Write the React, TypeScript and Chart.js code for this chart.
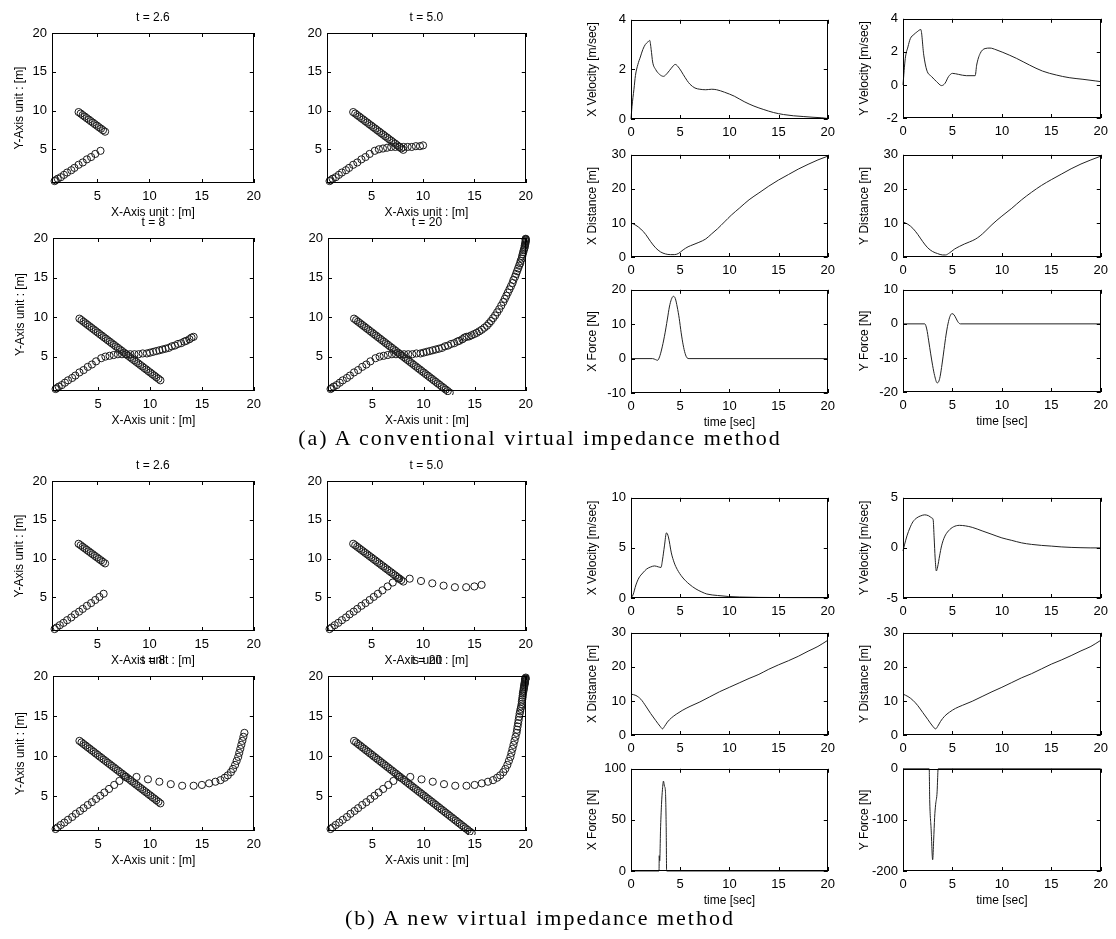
import React, { useEffect, useRef } from "react";
import { Chart, registerables } from "chart.js";
Chart.register(...registerables);

type Pt = [number, number];

// ---------- Trajectory data (robot path and obstacle path), one sample every 0.2 s ----------
const PATH1_A: Pt[] = [
  [0.9, 0.9], [1.0, 1.0], [1.2, 1.2], [1.5, 1.4], [1.8, 1.7], [2.1, 2.0], [2.5, 2.3], [2.8, 2.6], [3.2, 3.0], [3.6, 3.3],
  [4.0, 3.7], [4.4, 4.0], [4.8, 4.4], [5.3, 4.8],
  [5.7, 5.0], [6.1, 5.1], [6.5, 5.2], [6.9, 5.3], [7.3, 5.3], [7.7, 5.3], [8.1, 5.3], [8.5, 5.3], [8.9, 5.3], [9.3, 5.4],
  [9.7, 5.4], [10.0, 5.5],
  [10.3, 5.6], [10.6, 5.7], [10.9, 5.8], [11.2, 5.9], [11.5, 6.0], [11.8, 6.1], [12.1, 6.3], [12.4, 6.4], [12.7, 6.6], [13.0, 6.7],
  [13.3, 6.9], [13.5, 7.0], [13.8, 7.2], [14.0, 7.4], [14.2, 7.5],
  [14.45, 7.55], [14.7, 7.7], [14.95, 7.85], [15.2, 8.0], [15.45, 8.2], [15.7, 8.4], [15.95, 8.65], [16.2, 8.9], [16.4, 9.2], [16.6, 9.5],
  [16.8, 9.85], [17.0, 10.2], [17.2, 10.6], [17.4, 11.0], [17.6, 11.45], [17.8, 11.9], [17.95, 12.3], [18.1, 12.7], [18.25, 13.1], [18.4, 13.5],
  [18.55, 13.9], [18.7, 14.3], [18.8, 14.7], [18.95, 15.1], [19.05, 15.45], [19.15, 15.8], [19.25, 16.15], [19.35, 16.5], [19.45, 16.8], [19.5, 17.1],
  [19.6, 17.4], [19.65, 17.7], [19.7, 17.95], [19.75, 18.2], [19.8, 18.45], [19.85, 18.65], [19.9, 18.85], [19.9, 19.05], [19.95, 19.2], [19.95, 19.35],
  [20.0, 19.5], [20.0, 19.6], [20.0, 19.7], [20.0, 19.8], [20.0, 19.85], [20.0, 19.9],
];
const PATH2_A: Pt[] = [
  [3.2, 9.8], [3.4, 9.61], [3.59, 9.41], [3.79, 9.22], [3.98, 9.02], [4.18, 8.83], [4.37, 8.63], [4.57, 8.44], [4.76, 8.24], [4.96, 8.05],
  [5.15, 7.85], [5.35, 7.66], [5.54, 7.46], [5.74, 7.27], [5.93, 7.07], [6.13, 6.88], [6.32, 6.68], [6.52, 6.49], [6.71, 6.29], [6.91, 6.1],
  [7.1, 5.9], [7.3, 5.71], [7.49, 5.51], [7.69, 5.32], [7.88, 5.12], [8.08, 4.93], [8.27, 4.73], [8.47, 4.54], [8.66, 4.34], [8.86, 4.15],
  [9.05, 3.95], [9.25, 3.76], [9.44, 3.56], [9.64, 3.37], [9.83, 3.17], [10.03, 2.98], [10.22, 2.78], [10.42, 2.59], [10.61, 2.39], [10.81, 2.2],
  [11.0, 2.0], [11.2, 1.81], [11.39, 1.61], [11.59, 1.42], [11.78, 1.22], [11.98, 1.03], [12.17, 0.83], [12.37, 0.64], [12.56, 0.44],
];
const PATH1_B: Pt[] = [
  [0.9, 0.9], [1.1, 1.1], [1.4, 1.4], [1.75, 1.7], [2.1, 2.05], [2.5, 2.4], [2.85, 2.8], [3.25, 3.15], [3.6, 3.5], [4.0, 3.9],
  [4.4, 4.25], [4.8, 4.65], [5.2, 5.05], [5.6, 5.45],
  [6.05, 5.9], [6.55, 6.4], [7.05, 6.9], [7.6, 7.4], [8.7, 7.4], [9.8, 7.1], [10.9, 6.8], [12.0, 6.5], [13.1, 6.3], [14.2, 6.3],
  [15.0, 6.4], [15.7, 6.6],
  [16.3, 6.8], [16.8, 7.0], [17.2, 7.3], [17.5, 7.6], [17.8, 8.0], [18.0, 8.4], [18.2, 8.9], [18.35, 9.4], [18.5, 9.9], [18.6, 10.4],
  [18.7, 10.9], [18.8, 11.4], [18.9, 11.9], [19.0, 12.4], [19.1, 12.9],
  [19.15, 13.3], [19.2, 13.7], [19.25, 14.1], [19.3, 14.5], [19.35, 14.9], [19.4, 15.3], [19.45, 15.6], [19.5, 15.9], [19.55, 16.2], [19.6, 16.5],
  [19.62, 16.8], [19.65, 17.05], [19.68, 17.3], [19.7, 17.55], [19.72, 17.8], [19.75, 18.0], [19.78, 18.2], [19.8, 18.4], [19.82, 18.55], [19.84, 18.7],
  [19.86, 18.85], [19.88, 19.0], [19.9, 19.1], [19.91, 19.2], [19.92, 19.3], [19.93, 19.4], [19.94, 19.5], [19.95, 19.55], [19.96, 19.6], [19.97, 19.65],
  [19.98, 19.7], [20.0, 19.8],
];
const PATH2_B: Pt[] = [
  [3.2, 11.9], [3.4, 11.71], [3.59, 11.51], [3.79, 11.32], [3.98, 11.12], [4.18, 10.93], [4.37, 10.73], [4.57, 10.54], [4.76, 10.34], [4.96, 10.15],
  [5.15, 9.95], [5.35, 9.76], [5.54, 9.56], [5.74, 9.37], [5.93, 9.17], [6.13, 8.98], [6.32, 8.78], [6.52, 8.59], [6.71, 8.39], [6.91, 8.2],
  [7.1, 8.0], [7.3, 7.81], [7.49, 7.61], [7.69, 7.42], [7.88, 7.22], [8.08, 7.03], [8.27, 6.83], [8.47, 6.64], [8.66, 6.44], [8.86, 6.25],
  [9.05, 6.05], [9.25, 5.86], [9.44, 5.66], [9.64, 5.47], [9.83, 5.27], [10.03, 5.08], [10.22, 4.88], [10.42, 4.69], [10.61, 4.49], [10.81, 4.3],
  [11.0, 4.1], [11.2, 3.91], [11.39, 3.71], [11.59, 3.52], [11.78, 3.32], [11.98, 3.13], [12.17, 2.93], [12.37, 2.74], [12.56, 2.54], [12.76, 2.35],
  [12.95, 2.15], [13.15, 1.96], [13.34, 1.76], [13.54, 1.57], [13.73, 1.37], [13.93, 1.18], [14.12, 0.98], [14.32, 0.79], [14.51, 0.59], [14.71, 0.4],
];
const SNAP_LABELS = ["t = 2.6", "t = 5.0", "t = 8", "t = 20"];
const SNAP_COUNTS = [14, 26, 41, 200];
const TRAJ_TICKS = [5, 10, 15, 20];
const TIME_TICKS = [0, 5, 10, 15, 20];

// ---------- Time histories (a) conventional ----------
const XVEL_A: Pt[] = [
  [0, 0], [0.1, 0.5], [0.3, 1.2], [0.45, 1.75], [0.7, 2.2], [0.95, 2.5], [1.2, 2.8], [1.45, 3.0], [1.7, 3.1], [1.9, 3.17],
  [2.05, 2.8], [2.2, 2.3], [2.5, 2.0], [2.9, 1.8], [3.3, 1.72], [3.7, 1.85], [4.1, 2.05], [4.5, 2.2], [4.9, 2.05], [5.3, 1.8],
  [5.7, 1.55], [6.0, 1.4], [6.5, 1.25], [7.0, 1.2], [7.6, 1.18], [8.2, 1.2], [8.7, 1.18], [9.5, 1.08], [10.5, 0.92], [11.5, 0.7],
  [12.5, 0.52], [13.5, 0.38], [14.5, 0.26], [15.5, 0.18], [16.5, 0.13], [17.5, 0.1], [18.5, 0.07], [19.4, 0.05], [20, 0.02],
];
const YVEL_A: Pt[] = [
  [0, 0], [0.23, 1.6], [0.5, 2.3], [0.74, 2.8], [1.1, 3.05], [1.4, 3.2], [1.8, 3.35], [2.1, 1.8], [2.4, 0.9], [2.9, 0.5],
  [3.4, 0.2], [3.9, -0.04], [4.25, 0.1], [4.6, 0.5], [5.0, 0.7], [5.6, 0.64], [6.4, 0.56], [7.3, 0.56], [7.45, 1.2], [7.8, 1.9],
  [8.3, 2.2], [8.8, 2.23], [9.4, 2.13], [10.1, 1.97], [11.5, 1.6], [12.8, 1.2], [14.1, 0.84], [15.5, 0.6], [16.8, 0.44], [18.2, 0.34],
  [19.5, 0.24], [20, 0.2],
];
const XDIST_A: Pt[] = [
  [0, 10], [0.5, 9.3], [1, 8.2], [1.5, 6.6], [2, 4.5], [2.5, 2.7], [3, 1.5], [3.5, 0.9], [4, 0.7], [4.4, 0.7],
  [4.8, 1.0], [5.3, 2.1], [5.8, 3.0], [6.3, 3.6], [6.9, 4.3], [7.6, 5.3], [8.2, 6.8], [8.8, 8.3], [9.5, 10.3], [10.2, 12.3],
  [11, 14.3], [12, 16.8], [13, 18.8], [14, 20.8], [15, 22.6], [16, 24.2], [17, 25.8], [18, 27.2], [19, 28.5], [20, 29.6],
];
const YDIST_A: Pt[] = [
  [0, 10.3], [0.5, 9.6], [1, 8.4], [1.5, 6.6], [2, 4.5], [2.5, 2.7], [3, 1.6], [3.5, 1.0], [4, 0.6], [4.3, 0.6],
  [4.7, 1.2], [5.2, 2.3], [5.7, 3.1], [6.2, 3.8], [6.7, 4.4], [7.3, 5.2], [7.8, 6.2], [8.3, 7.5], [9, 9.5], [9.5, 10.8],
  [10, 12.0], [11, 14.3], [12, 16.8], [13, 19], [14, 21], [15, 22.7], [16, 24.3], [17, 25.9], [18, 27.3], [19, 28.5], [20, 29.6],
];
const XFORCE_A: Pt[] = [
  [0, 0], [2.2, 0], [2.5, -0.3], [2.7, -0.5], [2.9, 0.5], [3.1, 2.5], [3.4, 6.5], [3.7, 11.5], [3.9, 15], [4.1, 17.2],
  [4.3, 18.1], [4.5, 17.5], [4.7, 15], [4.9, 11.7], [5.1, 7.5], [5.3, 4.0], [5.5, 1.5], [5.7, 0.2], [5.9, 0], [20, 0],
];
const YFORCE_A: Pt[] = [
  [0, 0], [2.2, 0], [2.4, -1.5], [2.6, -5], [2.8, -8.8], [3.0, -12.3], [3.2, -15.2], [3.45, -17.3], [3.6, -17], [3.75, -15.5],
  [3.95, -11.8], [4.15, -7.5], [4.35, -3.3], [4.55, 0], [4.75, 2.2], [4.95, 3.0], [5.15, 2.7], [5.35, 1.7], [5.55, 0.6], [5.8, 0], [20, 0],
];

// ---------- Time histories (b) new ----------
const XVEL_B: Pt[] = [
  [0, 0], [0.2, 0.3], [0.5, 1.3], [0.8, 2.0], [1.2, 2.5], [1.6, 2.9], [2.0, 3.1], [2.4, 3.2], [2.8, 3.1], [3.05, 3.05],
  [3.2, 3.8], [3.4, 5.2], [3.6, 6.5], [3.8, 6.1], [4.1, 4.5], [4.4, 3.5], [4.7, 2.85], [5.2, 2.1], [5.9, 1.4], [6.6, 0.9],
  [7.2, 0.6], [7.7, 0.4], [8.8, 0.25], [9.9, 0.15], [11, 0.1], [13, 0.06], [16, 0.04], [20, 0.03],
];
const YVEL_B: Pt[] = [
  [0, -0.3], [0.15, 0.3], [0.4, 1.2], [0.7, 2.0], [1.0, 2.6], [1.4, 3.0], [1.8, 3.2], [2.2, 3.3], [2.6, 3.2], [2.9, 3.0],
  [3.05, 2.8], [3.15, 1.0], [3.25, -1.0], [3.37, -2.3], [3.5, -1.9], [3.7, -0.8], [3.9, 0.2], [4.2, 1.1], [4.6, 1.7], [5.1, 2.1],
  [5.7, 2.25], [6.3, 2.2], [7.0, 2.05], [8.0, 1.7], [9.0, 1.35], [10, 1.0], [11, 0.75], [12, 0.5], [13, 0.35], [14, 0.25],
  [15, 0.18], [16, 0.1], [17, 0.05], [18, 0.02], [19, 0], [20, 0],
];
const XDIST_B: Pt[] = [
  [0, 12], [0.5, 11.6], [1.0, 10.5], [1.5, 8.5], [2.0, 6.3], [2.5, 4.3], [3.0, 2.4], [3.2, 1.8], [3.4, 2.5], [3.7, 3.8],
  [4.1, 5.0], [4.6, 6.1], [5.2, 7.2], [6, 8.4], [7, 9.7], [8, 11.2], [9, 12.7], [10, 14.0], [11, 15.3], [12, 16.6],
  [13, 17.8], [14, 19.3], [15, 20.6], [16, 21.8], [17, 23.1], [18, 24.6], [19, 26.0], [20, 27.8],
];
const YDIST_B: Pt[] = [
  [0, 12], [0.5, 11.3], [1.0, 10.2], [1.5, 8.6], [2.0, 6.6], [2.5, 4.6], [3.0, 2.6], [3.3, 1.8], [3.5, 2.5], [3.8, 4.0],
  [4.2, 5.5], [4.7, 6.7], [5.3, 7.8], [6, 8.7], [7, 9.9], [8, 11.3], [9, 12.7], [10, 14], [11, 15.4], [12, 16.8],
  [13, 18], [14, 19.4], [15, 20.8], [16, 22], [17, 23.3], [18, 24.7], [19, 26], [20, 27.8],
];
const XFORCE_B: Pt[] = [
  [0, 0], [2.85, 0], [2.87, 15], [2.92, 10], [3.0, 40], [3.1, 65], [3.2, 80], [3.3, 88], [3.4, 83], [3.5, 78],
  [3.58, 40], [3.62, 0], [20, 0],
];
const YFORCE_B: Pt[] = [
  [0, 0], [2.65, 0], [2.7, -60], [2.85, -120], [3.0, -178], [3.1, -140], [3.2, -95], [3.3, -70], [3.45, -45], [3.5, -20],
  [3.55, 0], [20, 0],
];

const CAPTION_A = "(a) A conventional virtual impedance method";
const CAPTION_B = "(b) A new virtual impedance method";

// ---------- rendering ----------
const FONT = "'Liberation Sans', Arial, Helvetica, sans-serif";

const framePlugin = {
  id: "frame",
  afterDatasetsDraw(chart: any, _args: any, opts: any) {
    const { ctx, chartArea } = chart;
    const { left, top, right, bottom } = chartArea;
    ctx.save();
    ctx.strokeStyle = "#000";
    ctx.lineWidth = 1;
    ctx.strokeRect(Math.round(left) + 0.5, Math.round(top) + 0.5, Math.round(right - left) - 1, Math.round(bottom - top) - 1);
    const xs = chart.scales.x;
    const ys = chart.scales.y;
    ctx.beginPath();
    for (const t of xs.ticks) {
      const p = Math.round(xs.getPixelForValue(t.value)) + 0.5;
      ctx.moveTo(p, bottom);
      ctx.lineTo(p, bottom - 4);
      ctx.moveTo(p, top);
      ctx.lineTo(p, top + 4);
    }
    for (const t of ys.ticks) {
      const p = Math.round(ys.getPixelForValue(t.value)) + 0.5;
      ctx.moveTo(left, p);
      ctx.lineTo(left + 4, p);
      ctx.moveTo(right, p);
      ctx.lineTo(right - 4, p);
    }
    ctx.stroke();
    if (opts && opts.title) {
      ctx.fillStyle = "#000";
      ctx.font = `12px ${FONT}`;
      ctx.textAlign = "center";
      ctx.textBaseline = "middle";
      ctx.fillText(opts.title, (left + right) / 2, top - 15);
    }
    ctx.restore();
  },
};

type Spec = {
  box: [number, number, number, number];
  padL: number;
  padT: number;
  padR: number;
  padB: number;
  title?: string;
  xTitle?: string;
  yTitle?: string;
  xMin: number;
  xMax: number;
  yMin: number;
  yMax: number;
  xTicks: number[];
  yTicks: number[];
  datasets: any[];
};

function ChartBox({ spec }: { spec: Spec }) {
  const ref = useRef<HTMLCanvasElement>(null);
  const [L, T, R, B] = spec.box;
  const w = R - L + spec.padL + spec.padR;
  const h = B - T + spec.padT + spec.padB;
  useEffect(() => {
    const chart = new Chart(ref.current as HTMLCanvasElement, {
      type: "scatter",
      data: { datasets: spec.datasets },
      options: {
        animation: false,
        responsive: false,
        devicePixelRatio: 1,
        layout: { padding: { left: 0, top: spec.padT, right: spec.padR, bottom: 0 } },
        plugins: {
          legend: { display: false },
          tooltip: { enabled: false },
          frame: { title: spec.title },
        } as any,
        scales: {
          x: {
            type: "linear",
            position: "bottom",
            min: spec.xMin,
            max: spec.xMax,
            grid: { display: false, drawTicks: false },
            border: { display: false },
            ticks: {
              font: { family: FONT, size: 13 },
              color: "#000",
              padding: 6,
              maxRotation: 0,
              autoSkip: false,
              callback: (v: any) => String(v),
            },
            afterBuildTicks: (s: any) => {
              s.ticks = spec.xTicks.map((v) => ({ value: v }));
            },
            afterFit: (s: any) => {
              s.height = spec.padB;
            },
            title: {
              display: !!spec.xTitle,
              text: spec.xTitle || "",
              font: { family: FONT, size: 12 },
              color: "#000",
              padding: 0,
            },
          },
          y: {
            type: "linear",
            position: "left",
            min: spec.yMin,
            max: spec.yMax,
            grid: { display: false, drawTicks: false },
            border: { display: false },
            ticks: {
              font: { family: FONT, size: 13 },
              color: "#000",
              padding: 5,
              autoSkip: false,
              callback: (v: any) => String(v),
            },
            afterBuildTicks: (s: any) => {
              s.ticks = spec.yTicks.map((v) => ({ value: v }));
            },
            afterFit: (s: any) => {
              s.width = spec.padL;
            },
            title: {
              display: !!spec.yTitle,
              text: spec.yTitle || "",
              font: { family: FONT, size: 12 },
              color: "#000",
              padding: 0,
            },
          },
        },
      } as any,
      plugins: [framePlugin as any],
    });
    return () => chart.destroy();
  }, []);
  return (
    <canvas
      ref={ref}
      width={w}
      height={h}
      style={{ position: "absolute", left: L - spec.padL, top: T - spec.padT, width: w, height: h }}
    />
  );
}

const toXY = (pts: Pt[]) => pts.map(([x, y]) => ({ x, y }));

const trajSets = (p1: Pt[], p2: Pt[], n: number) =>
  [p1, p2].map((p) => ({
    data: toXY(p.slice(0, n)),
    showLine: false,
    pointRadius: 3.6,
    pointBorderWidth: 1,
    pointBorderColor: "#1a1a1a",
    pointBackgroundColor: "rgba(0,0,0,0)",
    clip: 4,
  }));

const lineSets = (pts: Pt[]) => [
  {
    data: toXY(pts),
    showLine: true,
    borderColor: "#222",
    borderWidth: 1,
    pointRadius: 0,
    cubicInterpolationMode: "monotone",
    clip: 2,
  },
];

function trajSpecs(p1: Pt[], p2: Pt[], boxes: [number, number, number, number][]): Spec[] {
  return boxes.map((box, i) => ({
    box,
    padL: 40,
    padT: 26,
    padR: 12,
    padB: 37,
    title: SNAP_LABELS[i],
    xTitle: "X-Axis unit : [m]",
    yTitle: i % 2 === 0 ? "Y-Axis unit : [m]" : undefined,
    xMin: 0.65,
    xMax: 20,
    yMin: 0.65,
    yMax: 20,
    xTicks: TRAJ_TICKS,
    yTicks: TRAJ_TICKS,
    datasets: trajSets(p1, p2, SNAP_COUNTS[i]),
  }));
}

function lineSpec(
  box: [number, number, number, number],
  yTitle: string,
  yMin: number,
  yMax: number,
  yTicks: number[],
  pts: Pt[],
  withTime: boolean
): Spec {
  return {
    box,
    padL: 46,
    padT: 12,
    padR: 12,
    padB: withTime ? 37 : 26,
    yTitle,
    xTitle: withTime ? "time [sec]" : undefined,
    xMin: 0,
    xMax: 20,
    yMin,
    yMax,
    xTicks: TIME_TICKS,
    yTicks,
    datasets: lineSets(pts),
  };
}

const SPECS: Spec[] = [
  ...trajSpecs(PATH1_A, PATH2_A, [
    [52, 33, 255, 183],
    [327, 33, 527, 183],
    [53, 238, 255, 391],
    [328, 238, 527, 391],
  ]),
  lineSpec([631, 19, 829, 119], "X Velocity [m/sec]", 0, 4, [0, 2, 4], XVEL_A, false),
  lineSpec([903, 18, 1102, 118], "Y Velocity [m/sec]", -2, 4, [-2, 0, 2, 4], YVEL_A, false),
  lineSpec([631, 154, 829, 257], "X Distance [m]", 0, 30, [0, 10, 20, 30], XDIST_A, false),
  lineSpec([903, 154, 1102, 257], "Y Distance [m]", 0, 30, [0, 10, 20, 30], YDIST_A, false),
  lineSpec([631, 289, 829, 393], "X Force [N]", -10, 20, [-10, 0, 10, 20], XFORCE_A, true),
  lineSpec([903, 289, 1102, 392], "Y Force [N]", -20, 10, [-20, -10, 0, 10], YFORCE_A, true),
  ...trajSpecs(PATH1_B, PATH2_B, [
    [52, 481, 255, 631],
    [327, 481, 527, 631],
    [53, 676, 255, 831],
    [328, 676, 527, 831],
  ]),
  lineSpec([631, 497, 829, 598], "X Velocity [m/sec]", 0, 10, [0, 5, 10], XVEL_B, false),
  lineSpec([903, 497, 1102, 598], "Y Velocity [m/sec]", -5, 5, [-5, 0, 5], YVEL_B, false),
  lineSpec([631, 632, 829, 735], "X Distance [m]", 0, 30, [0, 10, 20, 30], XDIST_B, false),
  lineSpec([903, 632, 1102, 735], "Y Distance [m]", 0, 30, [0, 10, 20, 30], YDIST_B, false),
  lineSpec([631, 768, 829, 871], "X Force [N]", 0, 100, [0, 50, 100], XFORCE_B, true),
  lineSpec([903, 768, 1102, 871], "Y Force [N]", -200, 0, [-200, -100, 0], YFORCE_B, true),
];

const captionStyle = (cy: number): React.CSSProperties => ({
  position: "absolute",
  left: 0,
  width: 1080,
  top: cy - 15,
  height: 30,
  lineHeight: "30px",
  textAlign: "center",
  fontFamily: "'Liberation Serif', 'Times New Roman', serif",
  fontSize: 22,
  letterSpacing: 2,
  color: "#000",
  whiteSpace: "nowrap",
});

export default function App() {
  return (
    <div style={{ position: "absolute", left: 0, top: 0, width: 1116, height: 939, background: "#fff", overflow: "hidden" }}>
      {SPECS.map((s, i) => (
        <ChartBox key={i} spec={s} />
      ))}
      <div style={captionStyle(438)}>{CAPTION_A}</div>
      <div style={captionStyle(918)}>{CAPTION_B}</div>
    </div>
  );
}
